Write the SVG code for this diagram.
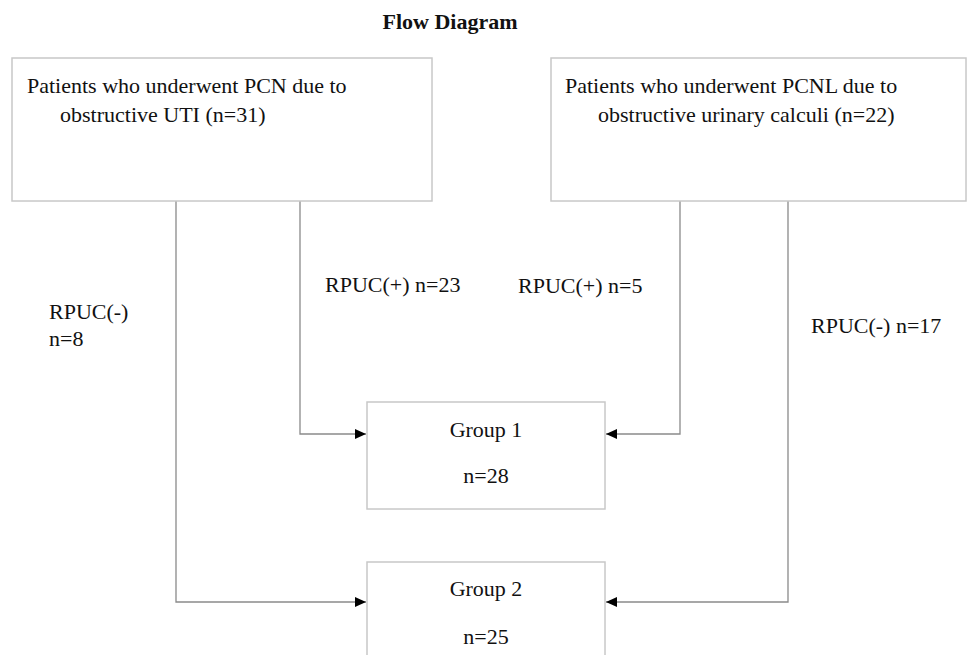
<svg xmlns="http://www.w3.org/2000/svg" width="968" height="655" viewBox="0 0 968 655">
<style>
  text { font-family: "Liberation Serif", "Times New Roman", serif; font-size: 22px; fill: #111; }
  .title { font-weight: bold; }
  .box { fill: #fff; stroke: #c8c8c8; stroke-width: 1.5; }
  .conn { fill: none; stroke: #8a8a8a; stroke-width: 1.3; }
  .mid { text-anchor: middle; }
</style>
<defs>
  <marker id="arr" markerUnits="userSpaceOnUse" markerWidth="11" markerHeight="10" refX="11" refY="5" orient="auto">
    <path d="M0,0 L11,5 L0,10 z" fill="#000"/>
  </marker>
</defs>
<rect width="968" height="655" fill="#fff"/>
<text class="title mid" x="450" y="29">Flow Diagram</text>

<g id="connectors">
  <path class="conn" d="M176,201 V602 H366" marker-end="url(#arr)"/>
  <path class="conn" d="M300,201 V434 H366" marker-end="url(#arr)"/>
  <path class="conn" d="M680,201 V434 H606" marker-end="url(#arr)"/>
  <path class="conn" d="M788,201 V602 H606" marker-end="url(#arr)"/>
  <text x="49" y="319">RPUC(-)</text>
  <text x="49" y="346">n=8</text>
  <text x="325" y="292">RPUC(+) n=23</text>
  <text x="518" y="293">RPUC(+) n=5</text>
  <text x="811" y="333">RPUC(-) n=17</text>
</g>

<g id="pcn">
  <rect class="box" x="12" y="58" width="420" height="143"/>
  <text x="27" y="93">Patients who underwent PCN due to</text>
  <text x="60" y="122">obstructive UTI (n=31)</text>
</g>

<g id="pcnl">
  <rect class="box" x="551" y="58" width="415" height="143"/>
  <text x="565" y="93">Patients who underwent PCNL due to</text>
  <text x="598" y="122">obstructive urinary calculi (n=22)</text>
</g>

<g id="group1">
  <rect class="box" x="367" y="402" width="238" height="107"/>
  <text class="mid" x="486" y="437">Group 1</text>
  <text class="mid" x="486" y="483">n=28</text>
</g>

<g id="group2">
  <rect class="box" x="367" y="562" width="238" height="100"/>
  <text class="mid" x="486" y="596">Group 2</text>
  <text class="mid" x="486" y="644">n=25</text>
</g>
</svg>
